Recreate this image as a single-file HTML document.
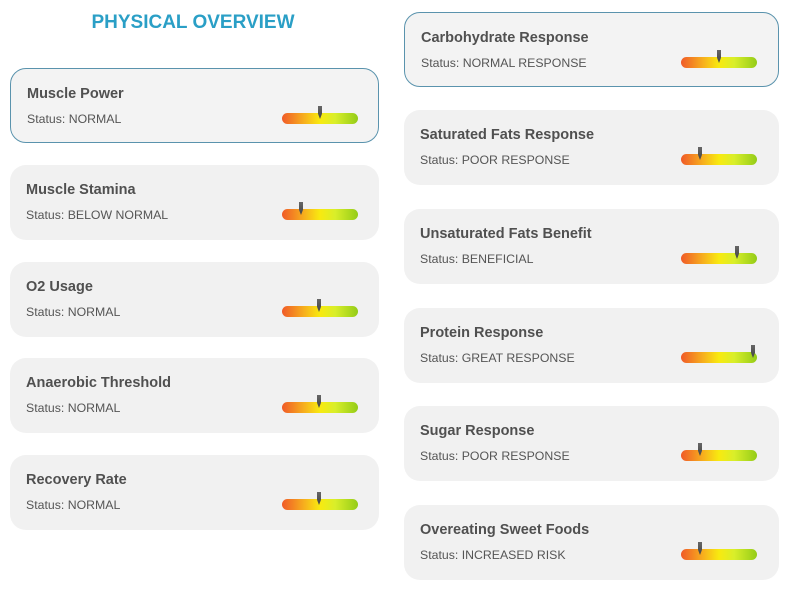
<!DOCTYPE html><html><head><style>
body{margin:0;width:786px;height:599px;background:#fff;font-family:"Liberation Sans",sans-serif;position:relative;overflow:hidden}
h1{position:absolute;left:0;width:386px;top:12px;margin:0;text-align:center;font-size:19px;font-weight:bold;color:#2a9fc6;letter-spacing:0}
.c{position:absolute;background:#f1f1f1;border-radius:16px;height:75px;box-sizing:border-box}
.c.a{border:1.5px solid #5a93ad;background:#f3f3f3}
.t{position:absolute;left:16px;top:17px;font-size:14.5px;font-weight:bold;color:#505050}
.s{position:absolute;left:16px;top:43px;font-size:12.3px;color:#555}
.b{position:absolute;top:44px;width:76px;height:11px;border-radius:6px;background:linear-gradient(90deg,#f05a28,#f7b21d 30%,#f8ea10 50%,#d9ee2a 70%,#94cc18)}
.m{position:absolute;top:37px;width:4px;height:13px;background:linear-gradient(#666,#444);clip-path:polygon(0 0,100% 0,100% 60%,50% 100%,0 60%)}
</style></head><body>
<h1>PHYSICAL OVERVIEW</h1>
<div class="c a" style="left:10px;top:68px;width:369px"><div class="t">Muscle Power</div><div class="s">Status: NORMAL</div><div class="b" style="left:271px"></div><div class="m" style="left:307px"></div></div>
<div class="c" style="left:10px;top:165px;width:369px"><div class="t">Muscle Stamina</div><div class="s">Status: BELOW NORMAL</div><div class="b" style="left:272px"></div><div class="m" style="left:289px"></div></div>
<div class="c" style="left:10px;top:262px;width:369px"><div class="t">O2 Usage</div><div class="s">Status: NORMAL</div><div class="b" style="left:272px"></div><div class="m" style="left:307px"></div></div>
<div class="c" style="left:10px;top:358px;width:369px"><div class="t">Anaerobic Threshold</div><div class="s">Status: NORMAL</div><div class="b" style="left:272px"></div><div class="m" style="left:307px"></div></div>
<div class="c" style="left:10px;top:455px;width:369px"><div class="t">Recovery Rate</div><div class="s">Status: NORMAL</div><div class="b" style="left:272px"></div><div class="m" style="left:307px"></div></div>

<div class="c a" style="left:404px;top:12px;width:375px"><div class="t">Carbohydrate Response</div><div class="s">Status: NORMAL RESPONSE</div><div class="b" style="left:276px"></div><div class="m" style="left:312px"></div></div>
<div class="c" style="left:404px;top:110px;width:375px"><div class="t">Saturated Fats Response</div><div class="s">Status: POOR RESPONSE</div><div class="b" style="left:277px"></div><div class="m" style="left:294px"></div></div>
<div class="c" style="left:404px;top:209px;width:375px"><div class="t">Unsaturated Fats Benefit</div><div class="s">Status: BENEFICIAL</div><div class="b" style="left:277px"></div><div class="m" style="left:331px"></div></div>
<div class="c" style="left:404px;top:308px;width:375px"><div class="t">Protein Response</div><div class="s">Status: GREAT RESPONSE</div><div class="b" style="left:277px"></div><div class="m" style="left:347px"></div></div>
<div class="c" style="left:404px;top:406px;width:375px"><div class="t">Sugar Response</div><div class="s">Status: POOR RESPONSE</div><div class="b" style="left:277px"></div><div class="m" style="left:294px"></div></div>
<div class="c" style="left:404px;top:505px;width:375px"><div class="t">Overeating Sweet Foods</div><div class="s">Status: INCREASED RISK</div><div class="b" style="left:277px"></div><div class="m" style="left:294px"></div></div>
</body></html>
